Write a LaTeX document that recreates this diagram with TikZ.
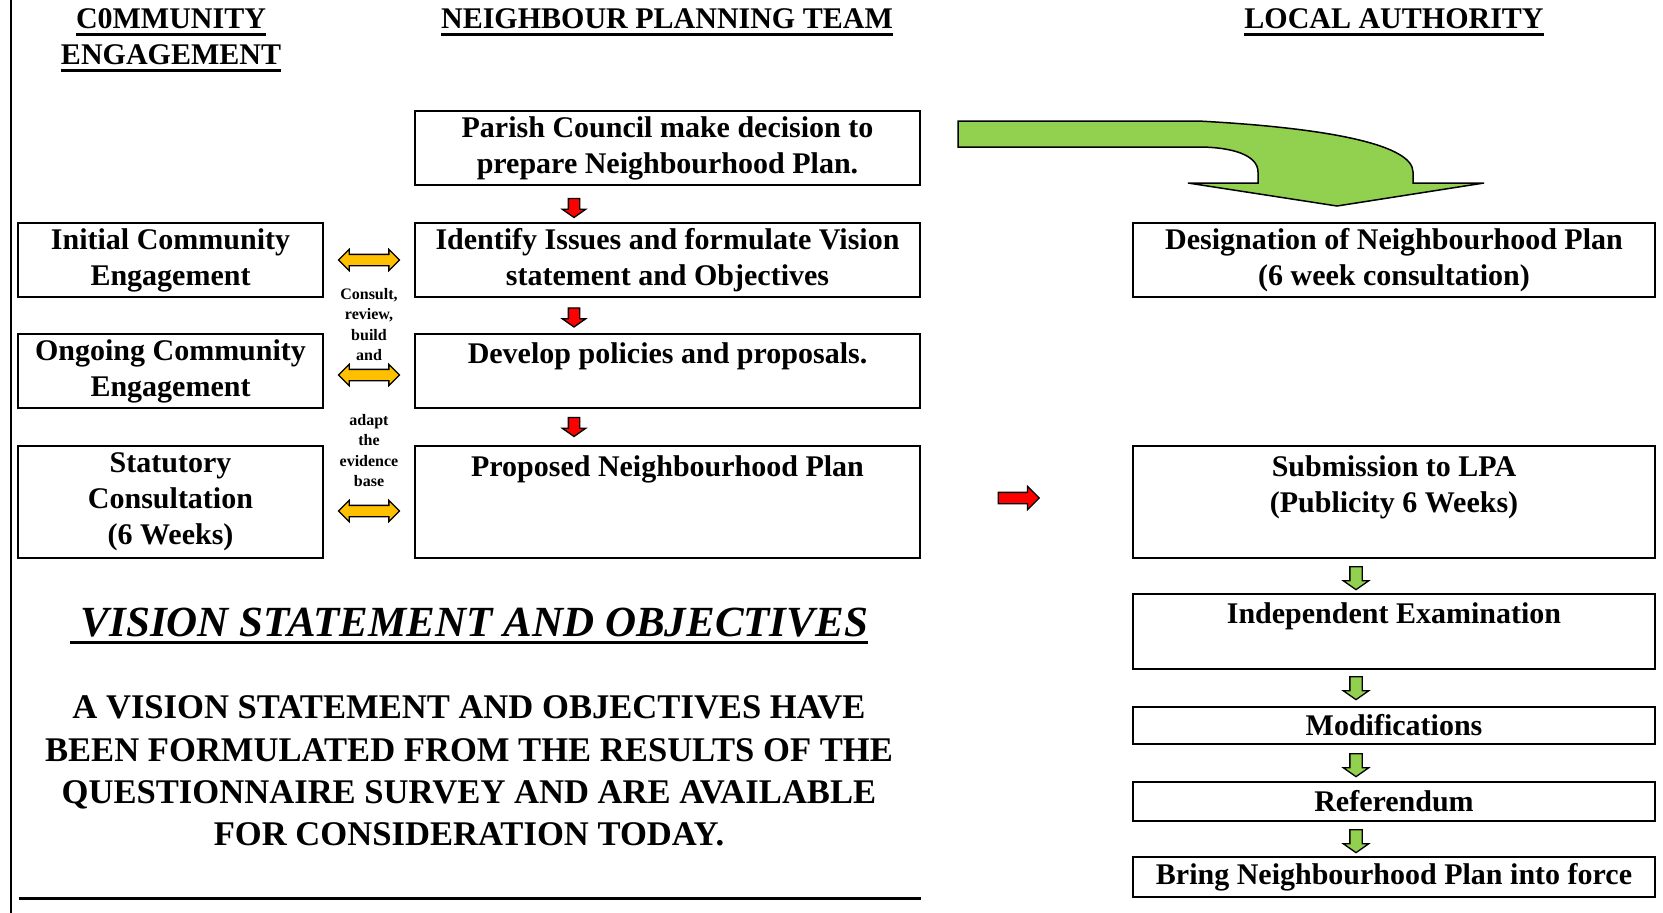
\documentclass[tikz,border=0pt]{standalone}
\usepackage{fontspec}
\setmainfont{Liberation Serif}
\usepackage{tikz}
\usetikzlibrary{shapes.arrows, positioning, calc}
\definecolor{redfill}{HTML}{FF0000}
\definecolor{yellowfill}{HTML}{FFC000}
\definecolor{greenfill}{HTML}{92D050}
\newsavebox{\hdbox}
\newcommand{\hdline}[2][3pt]{\sbox{\hdbox}{#2}\rlap{\smash{\rule[-7.5pt]{\wd\hdbox}{#1}}}\usebox{\hdbox}}
\tikzstyle{stage} = [rectangle, 
draw=black, 
line width=2pt, 
outer sep=0pt, 
align=center, 
inner sep=2pt, 
font=\fontsize{30}{36}\selectfont\bfseries]
\tikzstyle{heading} = [align=center, 
inner sep=0pt, 
font=\fontsize{30}{36}\selectfont\bfseries]
\tikzstyle{note} = [align=center, 
inner sep=0pt, 
font=\fontsize{16}{20.5}\selectfont\bfseries]
\tikzstyle{redarrow} = [single arrow, draw=black, line width=1.3pt, fill=redfill, 
inner sep=5pt, single arrow head extend=6pt, single arrow tip angle=110, minimum height=19pt]
\tikzstyle{greenarrow} = [single arrow, draw=black, line width=1.3pt, fill=greenfill, 
inner sep=5.5pt, single arrow head extend=6.5pt, single arrow tip angle=110, minimum height=23pt, rotate=-90]
\tikzstyle{linkarrow} = [double arrow, draw=black, line width=1.3pt, fill=yellowfill, 
inner sep=5pt, double arrow head extend=5pt, minimum height=61pt]

\begin{document}
\begin{tikzpicture}[x=1pt, y=-1pt]
        \useasboundingbox (0,0) rectangle (1663,913);

        % Headings
        \node (hcommunity) [heading] at (171,37) {\hdline{C0MMUNITY}\\\hdline{ENGAGEMENT}};
        \node (hteam) [heading] at (667,19) {\hdline{NEIGHBOUR PLANNING TEAM}};
        \node (hauthority) [heading] at (1394,19) {\hdline{LOCAL AUTHORITY}};

        % Neighbour planning team
        \node (parish) [stage, minimum width=505pt, minimum height=74pt] at (667.5,148) {Parish Council make decision to\\prepare Neighbourhood Plan.};
        \node (issues) [stage, minimum width=505pt, minimum height=74pt, below=38pt of parish] {Identify Issues and formulate Vision\\statement and Objectives};
        \node (policies) [stage, minimum width=505pt, minimum height=74pt, below=37pt of issues] {Develop policies and proposals.\\~};
        \node (proposed) [stage, minimum width=505pt, minimum height=112pt, below=38pt of policies] {Proposed Neighbourhood Plan\\~\\~};

        % Community engagement
        \node (initial) [stage, minimum width=305pt, minimum height=74pt, left=92pt of issues] {Initial Community\\Engagement};
        \node (ongoing) [stage, minimum width=305pt, minimum height=74pt, left=92pt of policies] {Ongoing Community\\Engagement};
        \node (statutory) [stage, minimum width=305pt, minimum height=112pt, left=92pt of proposed] {Statutory\\Consultation\\(6 Weeks)};
        \node (consult) [note] at (369,324.5) {Consult,\\review,\\build\\and};
        \node (adapt) [note] at (369,450.5) {adapt\\the\\evidence\\base};

        % Local authority
        \node (designation) [stage, minimum width=522pt, minimum height=74pt, right=213pt of issues] {Designation of Neighbourhood Plan\\(6 week consultation)};
        \node (submission) [stage, minimum width=522pt, minimum height=112pt, right=213pt of proposed] {Submission to LPA\\(Publicity 6 Weeks)\\~};
        \node (independent) [stage, minimum width=522pt, minimum height=75pt, below=36pt of submission] {Independent Examination\\~};
        \node (modifications) [stage, minimum width=522pt, minimum height=37pt, below=38pt of independent] {Modifications};
        \node (referendum) [stage, minimum width=522pt, minimum height=39pt, below=38pt of modifications] {Referendum};
        \node (intoforce) [stage, minimum width=522pt, minimum height=40pt, below=36pt of referendum] {Bring Neighbourhood Plan into force};

        % Vision statement
        \node (visiontitle) [inner sep=0pt, font=\fontsize{43}{50}\selectfont\bfseries\itshape] at (469,623) {\hdline{\ VISION STATEMENT AND OBJECTIVES}};
        \node (visiontext) [align=center, inner sep=0pt, font=\fontsize{34.6}{42.3}\selectfont\bfseries, below=58pt of visiontitle] {A VISION STATEMENT AND OBJECTIVES HAVE\\BEEN FORMULATED FROM THE RESULTS OF THE\\QUESTIONNAIRE SURVEY AND ARE AVAILABLE\\FOR CONSIDERATION TODAY.};

        % Arrows
        \node (down1) [redarrow, rotate=-90] at ($(parish.south)!0.5!(issues.north) + (-93.5,2)$) {};
        \node (down2) [redarrow, rotate=-90] at ($(issues.south)!0.5!(policies.north) + (-93.5,0)$) {};
        \node (down3) [redarrow, rotate=-90] at ($(policies.south)!0.5!(proposed.north) + (-93.5,-2)$) {};
        \node (link1) [linkarrow] at ($(initial.east)!0.5!(issues.west)$) {};
        \node (link2) [linkarrow] at ($(ongoing.east)!0.5!(policies.west) + (0,4)$) {};
        \node (link3) [linkarrow] at ($(statutory.east)!0.5!(proposed.west) + (0,9)$) {};
        \node (toLPA) [redarrow, single arrow tip angle=90, minimum height=41pt] at ($(proposed.east)!0.45!(submission.west) + (0,-4)$) {};
        \node (next1) [greenarrow] at ($(submission.south)!0.5!(independent.north) + (-38,0)$) {};
        \node (next2) [greenarrow] at ($(independent.south)!0.5!(modifications.north) + (-38,-2)$) {};
        \node (next3) [greenarrow] at ($(modifications.south)!0.5!(referendum.north) + (-38,0)$) {};
        \node (next4) [greenarrow] at ($(referendum.south)!0.5!(intoforce.north) + (-38,0)$) {};

        % Designation arrow
        \draw [line width=1.5pt, fill=greenfill] (958,121) -- (1198,121)
            .. controls (1330,128) and (1413,145) .. (1413,172) -- (1413,183)
            -- (1484,183) -- (1337,206) -- (1188,183) -- (1258,183) -- (1258,172)
            .. controls (1258,155) and (1232,147) .. (1198,147) -- (958,147) -- cycle;

        % Frame lines
        \draw [line width=2pt] (11,0) -- (11,913);
        \draw [line width=3pt] (19,898) -- (921,898);

    \end{tikzpicture}
\end{document}
